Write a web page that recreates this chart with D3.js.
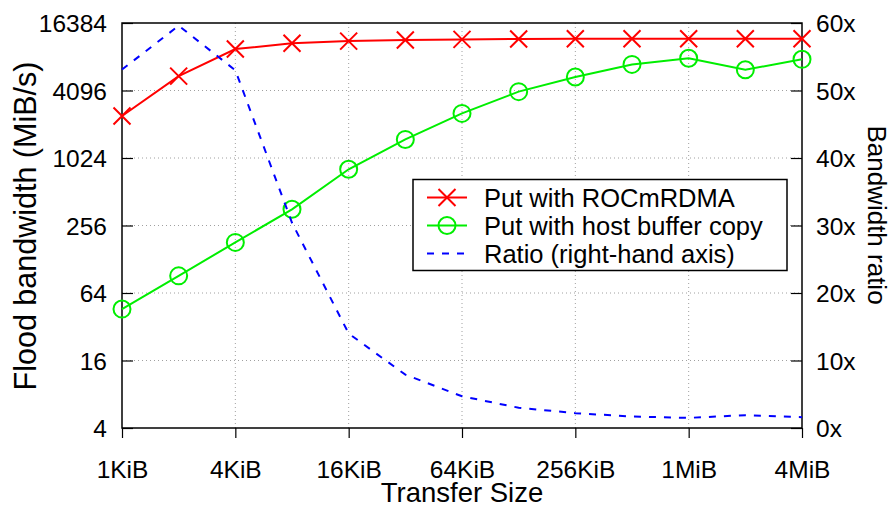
<!DOCTYPE html>
<html>
<head>
<meta charset="utf-8">
<script src="https://cdn.jsdelivr.net/npm/d3@7"></script>
<style>
  html, body { margin: 0; padding: 0; background: #fff; }
  svg { display: block; }
  text { font-family: "Liberation Sans", Arial, Helvetica, sans-serif; fill: #000; }
</style>
</head>
<body>
<svg id="chart" width="891" height="508"></svg>
<script>
// Transfer sizes in KiB
const sizesKiB = [1, 2, 4, 8, 16, 32, 64, 128, 256, 512, 1024, 2048, 4096];
// Flood bandwidth in MiB/s
const rocmRdma = [2425, 5500, 9600, 10800, 11300, 11550, 11700, 11800, 11850, 11850, 11850, 11850, 11850];
const hostCopy = [46, 91, 181, 357, 812, 1500, 2560, 4000, 5400, 7000, 7950, 6280, 7770];
// Bandwidth ratio (ROCmRDMA / host buffer copy)
const ratio = [53.1, 59.6, 53.0, 30.4, 14.0, 7.9, 4.7, 3.0, 2.2, 1.7, 1.5, 1.9, 1.6];

const xTicks = [1, 4, 16, 64, 256, 1024, 4096];
const xTickLabels = ["1KiB", "4KiB", "16KiB", "64KiB", "256KiB", "1MiB", "4MiB"];
const yTicks = [4, 16, 64, 256, 1024, 4096, 16384];
const y2Ticks = [0, 10, 20, 30, 40, 50, 60];

const seriesNames = ["Put with ROCmRDMA", "Put with host buffer copy", "Ratio (right-hand axis)"];

const plotL = 122, plotR = 802, plotT = 23, plotB = 428;
const TICK_FONT = 24.5, LEGEND_FONT = 25.5;

const svg = d3.select("#chart");

const x = d3.scaleLog().base(2).domain([1, 4096]).range([plotL, plotR]);
const y = d3.scaleLog().base(2).domain([4, 16384]).range([plotB, plotT]);
const y2 = d3.scaleLinear().domain([0, 60]).range([plotB, plotT]);

// Dotted grid
const grid = svg.append("g").attr("stroke", "#a0a0a0").attr("stroke-width", 1).attr("stroke-dasharray", "1,3");
grid.selectAll("line.gx").data(xTicks.slice(1, -1)).join("line")
  .attr("x1", d => x(d)).attr("x2", d => x(d)).attr("y1", plotB).attr("y2", plotT);
grid.selectAll("line.gy").data(yTicks.slice(1, -1)).join("line")
  .attr("y1", d => y(d)).attr("y2", d => y(d)).attr("x1", plotL).attr("x2", plotR);

function styleAxis(g) {
  g.attr("font-size", TICK_FONT).attr("font-family", null);
  g.select(".domain").remove();
  g.selectAll(".tick line").attr("stroke", "#000").attr("stroke-width", 1.2);
}

// Bottom axis (ticks point outward)
svg.append("g").attr("transform", `translate(0,${plotB})`)
  .call(d3.axisBottom(x).tickValues(xTicks).tickSize(10)
    .tickFormat((d, i) => xTickLabels[i]))
  .call(styleAxis)
  .call(g => g.selectAll(".tick text").attr("y", 49.5).attr("dy", 0));

// Left axis (ticks point inward)
svg.append("g").attr("transform", `translate(${plotL},0)`)
  .call(d3.axisLeft(y).tickValues(yTicks).tickSize(-11).tickPadding(15)
    .tickFormat(d3.format("d")))
  .call(styleAxis)
  .call(g => g.selectAll(".tick text").attr("dy", "0.36em"));

// Right axis (ticks point inward)
svg.append("g").attr("transform", `translate(${plotR},0)`)
  .call(d3.axisRight(y2).tickValues(y2Ticks).tickSize(-11).tickPadding(14)
    .tickFormat(d => d + "x"))
  .call(styleAxis)
  .call(g => g.selectAll(".tick text").attr("dy", "0.36em"));

// Plot border
svg.append("rect").attr("x", plotL).attr("y", plotT)
  .attr("width", plotR - plotL).attr("height", plotB - plotT)
  .attr("fill", "none").attr("stroke", "#000").attr("stroke-width", 1.5);

// Axis titles
svg.append("text").attr("transform", "translate(36,226) rotate(-90)")
  .attr("text-anchor", "middle").attr("font-size", 30.5).text("Flood bandwidth (MiB/s)");
svg.append("text").attr("transform", "translate(868,215) rotate(90)")
  .attr("text-anchor", "middle").attr("font-size", 26).text("Bandwidth ratio");
svg.append("text").attr("x", 462).attr("y", 502)
  .attr("text-anchor", "middle").attr("font-size", 27.5).text("Transfer Size");

const R = 8.5;
const crossPath = `M${-R},${-R}L${R},${R}M${-R},${R}L${R},${-R}`;

const RED = "#ff0000", GREEN = "#00ee00", BLUE = "#0000ff";

const lineL = (vals) => d3.line().x((d, i) => x(sizesKiB[i])).y(d => y(d))(vals);

// ROCmRDMA series
svg.append("path").attr("d", lineL(rocmRdma)).attr("fill", "none")
  .attr("stroke", RED).attr("stroke-width", 2);
svg.append("g").selectAll("path").data(rocmRdma).join("path")
  .attr("transform", (d, i) => `translate(${x(sizesKiB[i])},${y(d)})`)
  .attr("d", crossPath).attr("stroke", RED).attr("stroke-width", 2).attr("fill", "none");

// Host buffer copy series
svg.append("path").attr("d", lineL(hostCopy)).attr("fill", "none")
  .attr("stroke", GREEN).attr("stroke-width", 2);
svg.append("g").selectAll("circle").data(hostCopy).join("circle")
  .attr("cx", (d, i) => x(sizesKiB[i])).attr("cy", d => y(d)).attr("r", R)
  .attr("stroke", GREEN).attr("stroke-width", 2).attr("fill", "none");

// Ratio series on the right-hand axis
svg.append("path")
  .attr("d", d3.line().x((d, i) => x(sizesKiB[i])).y(d => y2(d))(ratio))
  .attr("fill", "none").attr("stroke", BLUE).attr("stroke-width", 2)
  .attr("stroke-dasharray", "7,8");

// Legend
const lg = svg.append("g");
lg.append("rect").attr("x", 413).attr("y", 179.5).attr("width", 374).attr("height", 91)
  .attr("fill", "#fff").attr("stroke", "#000").attr("stroke-width", 1.5);
const rowsY = [197.5, 225.5, 253.5];
const lx1 = 427, lx2 = 467, lxm = 447;
seriesNames.forEach((name, i) => {
  const ry = rowsY[i];
  const color = [RED, GREEN, BLUE][i];
  const ln = lg.append("line").attr("x1", lx1).attr("x2", lx2).attr("y1", ry).attr("y2", ry)
    .attr("stroke", color).attr("stroke-width", 2);
  if (i === 2) ln.attr("stroke-dasharray", "7,8");
  if (i === 0) lg.append("path").attr("transform", `translate(${lxm},${ry})`)
    .attr("d", crossPath).attr("stroke", color).attr("stroke-width", 2);
  if (i === 1) lg.append("circle").attr("cx", lxm).attr("cy", ry).attr("r", R)
    .attr("stroke", color).attr("stroke-width", 2).attr("fill", "none");
  lg.append("text").attr("x", 484).attr("y", ry + 9.5).attr("font-size", LEGEND_FONT).text(name);
});
</script>
</body>
</html>
